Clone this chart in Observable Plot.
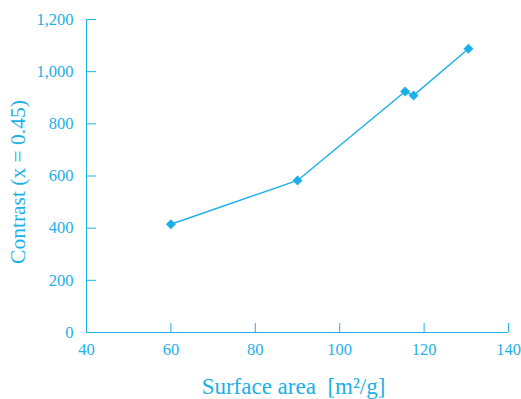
<!DOCTYPE html>
<html>
<head>
<meta charset="utf-8">
<script src="https://cdn.jsdelivr.net/npm/d3@7"></script>
<script src="https://cdn.jsdelivr.net/npm/@observablehq/plot@0.6"></script>
<style>
  body { margin: 0; background: #fff; }
</style>
</head>
<body>
<div id="chart"></div>
<script>
// Contrast measured against BET surface area
const surfaceArea = [60, 90, 115.5, 117.5, 130.5];
const contrast = [415, 583, 924, 909, 1088];

const xTicks = [40, 60, 80, 100, 120, 140];
const yTicks = [0, 200, 400, 600, 800, 1000, 1200];

const xLabel = "Surface area\u2002[m²/g]";
const yLabel = "Contrast (x = 0.45)";

const blue = "#1cb0e8";
const points = surfaceArea.map((x, i) => ({x, y: contrast[i]}));

const chart = Plot.plot({
  width: 521,
  height: 399,
  marginLeft: 86,
  marginRight: 13,
  marginTop: 19,
  marginBottom: 67,
  style: {fontFamily: "'Liberation Serif', serif", color: blue, background: "#fff"},
  x: {domain: [40, 140]},
  y: {domain: [0, 1200]},
  marks: [
    Plot.axisX({ticks: xTicks, tickSize: -9, tickPadding: 20, fontSize: 16.5, label: null, stroke: blue}),
    Plot.axisY({ticks: yTicks, tickSize: -10, tickPadding: 23, fontSize: 16.5, tickFormat: d3.format(","), label: null, stroke: blue}),
    Plot.ruleX([40], {stroke: blue}),
    Plot.ruleY([0], {stroke: blue}),
    Plot.line(points, {x: "x", y: "y", stroke: blue, strokeWidth: 1.4}),
    Plot.dot(points, {x: "x", y: "y", symbol: "diamond2", r: 4.5, fill: blue, stroke: "none"}),
    Plot.text([xLabel], {frameAnchor: "bottom", dx: -4, dy: 54, lineAnchor: "middle", fontSize: 23, fill: blue}),
    Plot.text([yLabel], {frameAnchor: "left", textAnchor: "middle", rotate: -90, dx: -68, dy: 6, fontSize: 21.5, fill: blue})
  ]
});

document.getElementById("chart").append(chart);
</script>
</body>
</html>
